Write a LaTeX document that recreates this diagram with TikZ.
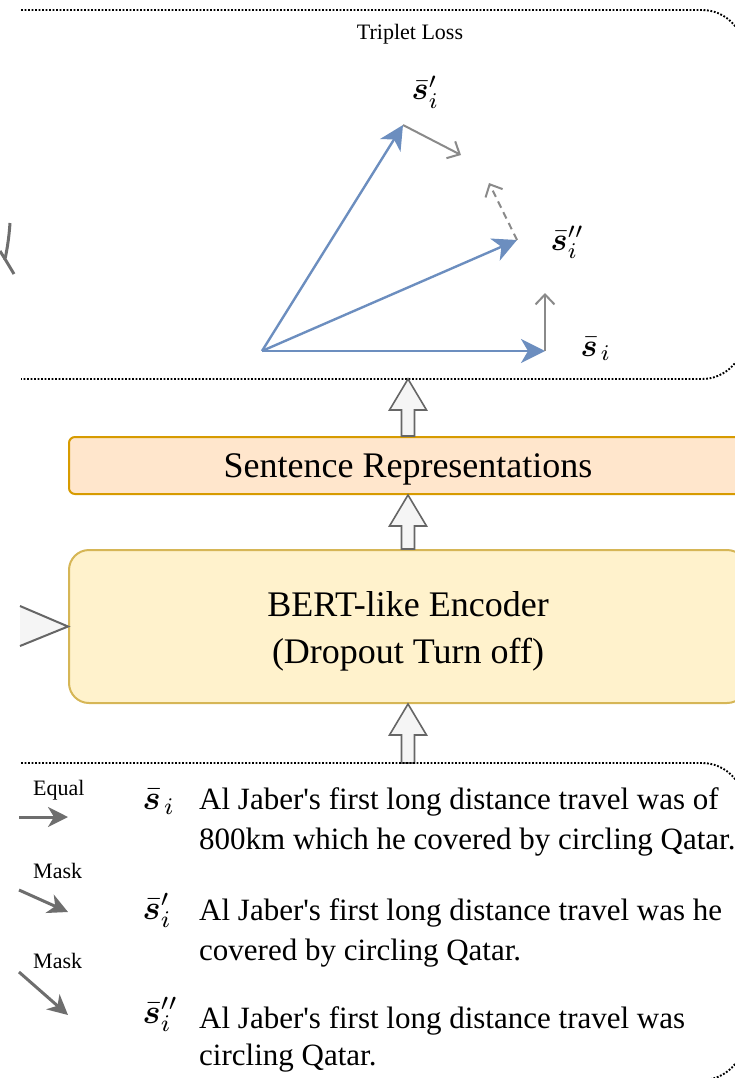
\documentclass[tikz,border=0pt]{standalone}
\usepackage{amsmath}
\usepackage{bm}
\usepackage{fontspec}
\setmainfont{Liberation Serif}
\newfontfamily\plainserif{Liberation Serif}
\usetikzlibrary{arrows.meta,calc}
\definecolor{vecblue}{HTML}{6C8EBF}
\definecolor{vecgray}{HTML}{8A8A8A}
\definecolor{darkgray}{HTML}{6E6E6E}
\definecolor{srfill}{HTML}{FFE6CC}
\definecolor{srdraw}{HTML}{D79B00}
\definecolor{encfill}{HTML}{FFF2CC}
\definecolor{encdraw}{HTML}{D6B656}
\definecolor{blkfill}{HTML}{F5F5F5}
\definecolor{blkdraw}{HTML}{666666}
\newcommand\blockup[2]{%
  \draw[blockarrow] let \p1=(#1), \p2=(#2) in
    (\x2,\y2) -- (\x2+18.5pt,\y2-31pt) -- (\x2+6.5pt,\y2-31pt) -- (\x2+6.5pt,\y1)
    -- (\x2-6.5pt,\y1) -- (\x2-6.5pt,\y2-31pt) -- (\x2-18.5pt,\y2-31pt) -- cycle;}
\begin{document}
\begin{tikzpicture}[x=1pt,y=-1pt,
  dotbox/.style={draw=black,line width=1.9pt,dash pattern=on 1.8pt off 1.7pt,rounded corners=42pt},
  srbox/.style={draw=srdraw,fill=srfill,line width=2pt,rounded corners=6pt,minimum width=678pt,minimum height=57pt,inner sep=0pt},
  encbox/.style={draw=encdraw,fill=encfill,line width=2pt,rounded corners=20pt,minimum width=678pt,minimum height=153pt,inner sep=0pt},
  bigtext/.style={font=\plainserif\fontsize{36}{47}\selectfont,inner sep=0pt},
  bodytext/.style={font=\plainserif\fontsize{31}{40}\selectfont,inner sep=0pt,anchor=base west},
  smalltext/.style={font=\plainserif\fontsize{22}{26}\selectfont,inner sep=0pt},
  symb/.style={scale=3.4,inner sep=0pt,anchor=base west},
  toplab/.style={scale=3.2,inner sep=0pt,anchor=base west},
  blockarrow/.style={draw=blkdraw,fill=blkfill,line width=1.6pt,line join=miter},
  bluevec/.style={draw=vecblue,line width=2.4pt,-{Stealth[length=24pt,width=24pt,inset=7pt]}},
  grayvec/.style={draw=vecgray,line width=2pt,-{Straight Barb[length=10pt,width=19pt]}},
  opvec/.style={draw=darkgray,line width=3pt,-{Stealth[length=20pt,width=20pt,inset=6pt]}}]
\useasboundingbox (0,0) rectangle (734,1078);

% top dotted box (Triplet Loss)
\draw[dotbox] (21,10) -- (744,10) -- (744,379) -- (21,379);
\coordinate (tb) at (408,379);
\node[smalltext,anchor=base] (tl) at (410,40) {Triplet Loss};

% vectors
\coordinate (o) at (262,351);
\coordinate (p1) at (403,125);
\coordinate (p2) at (517,240);
\coordinate (p3) at (545,351);
\coordinate (g1) at (461,155);
\coordinate (g2) at (489,183);
\coordinate (g3) at (545,293);
\draw[bluevec] (o) -- (p1);
\draw[bluevec] (o) -- (p2);
\draw[bluevec] (o) -- (p3);
\draw[grayvec] (p1) -- (g1);
\draw[grayvec,dash pattern=on 7pt off 5pt] (p2) -- (g2);
\draw[grayvec] (p3) -- (g3);
\node[toplab] (l1) at (411,100) {$\bar{\bm s}'_i$};
\node[toplab] (l2) at (550,250) {$\bar{\bm s}''_i$};
\node[toplab] (l3) at (580,356) {$\bar{\bm s}_{\mkern2mu i}$};

% left partial stroke
\draw[darkgray,line width=3pt] (10,223) .. controls (9,238) and (7,250) .. (5,259) -- (14,274);
\draw[darkgray,line width=3pt] (0,251) -- (5,259);

% boxes
\node[srbox] (sr) at (408,465.5) {};
\node[bigtext,anchor=base] (srt) at (408,477) {Sentence Representations};
\node[encbox] (enc) at (408,626.5) {};
\node[bigtext,anchor=base] (enc1) at (408,616) {BERT-like Encoder};
\node[bigtext,anchor=base] (enc2) at (408,663) {(Dropout Turn off)};

% left triangle
\path[draw=blkdraw,fill=blkfill,line width=2pt] (20,606) -- (enc.west) -- (20,646);

% block arrows
\coordinate (bb) at (408,763);
\blockup{sr.north}{tb}
\blockup{enc.north}{sr.south}
\blockup{bb}{enc.south}

% bottom dotted box
\draw[dotbox] (21,763) -- (744,763) -- (744,1080) -- (21,1080);

% operations
\node[smalltext,anchor=base west] (eq) at (33,795) {Equal};
\node[smalltext,anchor=base west] (m1) at (33,878) {Mask};
\node[smalltext,anchor=base west] (m2) at (33,968) {Mask};
\coordinate (a1s) at (19,817); \coordinate (a1e) at (68,817);
\coordinate (a2s) at (19,890); \coordinate (a2e) at (68,912);
\coordinate (a3s) at (19,972); \coordinate (a3e) at (68,1015);
\draw[opvec] (a1s) -- (a1e);
\draw[opvec] (a2s) -- (a2e);
\draw[opvec] (a3s) -- (a3e);

% sentences
\node[symb] (s1) at (142,809) {$\bar{\bm s}_{\mkern2mu i}$};
\node[symb] (s2) at (142,919) {$\bar{\bm s}'_i$};
\node[symb] (s3) at (142,1023) {$\bar{\bm s}''_i$};
\node[bodytext] (t1a) at (199,809) {Al Jaber's first long distance travel was of};
\node[bodytext] (t1b) at (199,849) {800km which he covered by circling Qatar.};
\node[bodytext] (t2a) at (199,920) {Al Jaber's first long distance travel was he};
\node[bodytext] (t2b) at (199,960) {covered by circling Qatar.};
\node[bodytext] (t3a) at (199,1028) {Al Jaber's first long distance travel was};
\node[bodytext] (t3b) at (199,1065) {circling Qatar.};
\end{tikzpicture}
\end{document}
